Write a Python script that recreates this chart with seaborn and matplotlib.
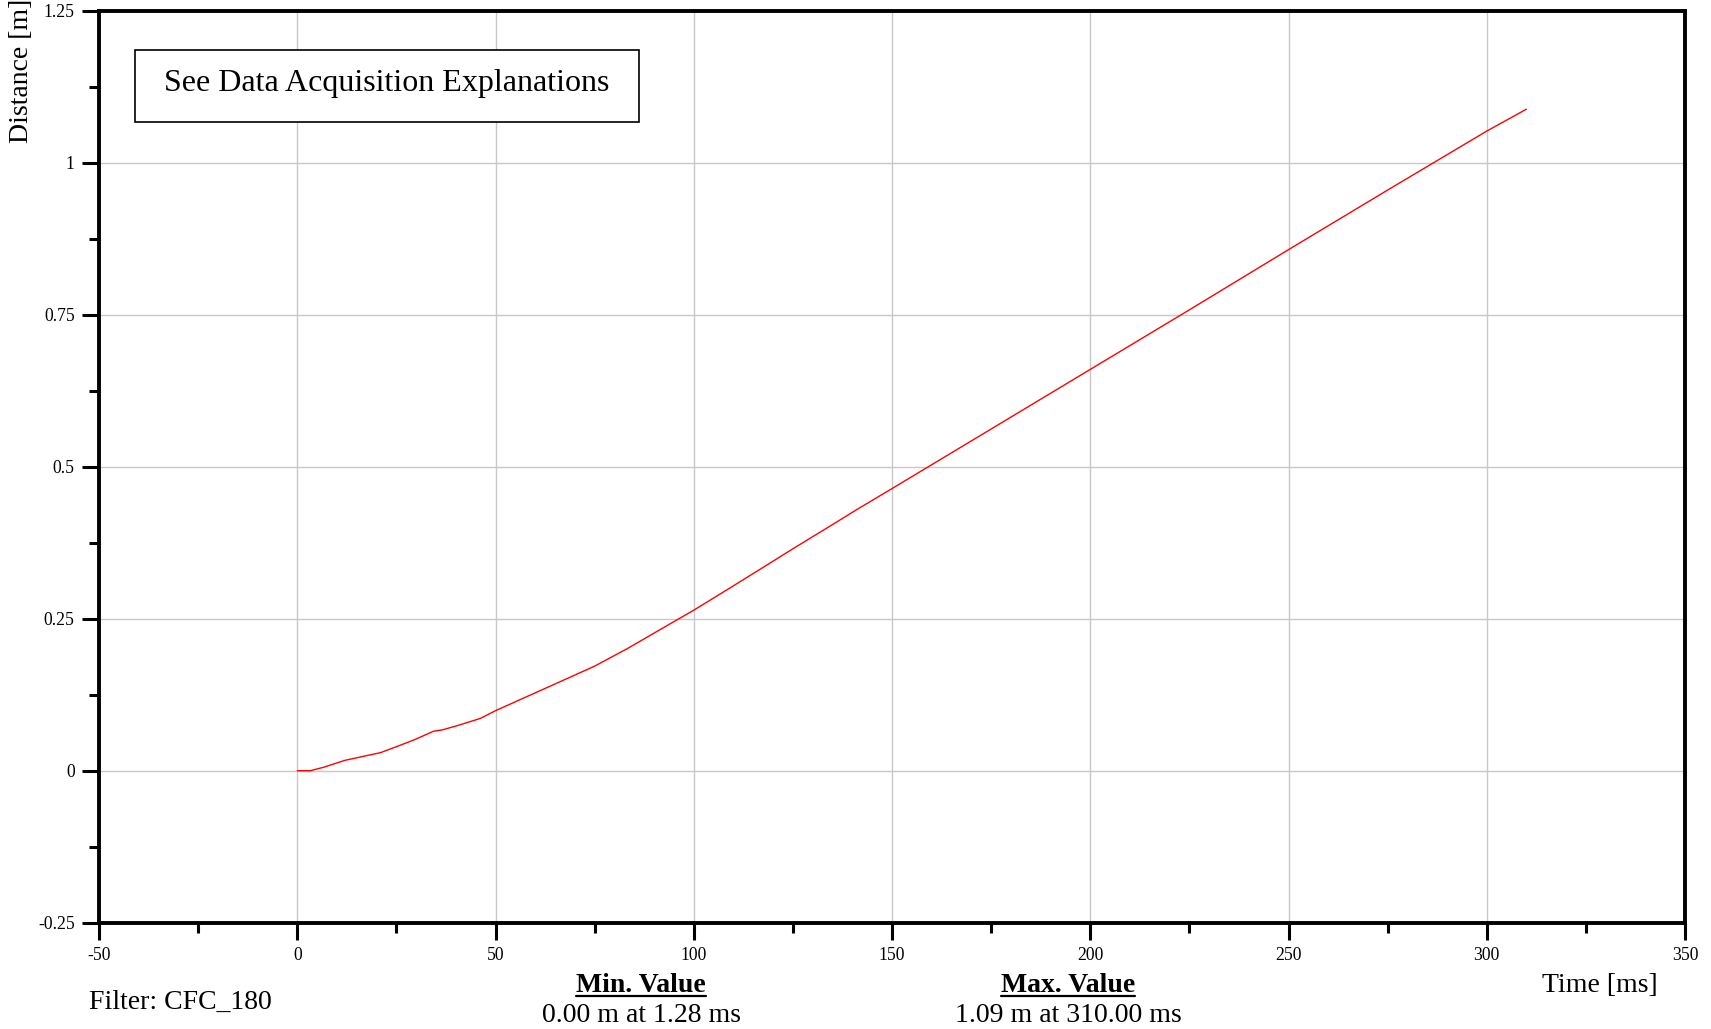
import matplotlib
matplotlib.use("Agg")
import matplotlib.pyplot as plt
from matplotlib.lines import Line2D
from matplotlib.patches import Rectangle
from matplotlib.ticker import FixedLocator, FixedFormatter, MultipleLocator
import seaborn as sns
import pandas as pd

# ---- data ----
time_ms = [0, 3.3, 6.6, 12, 21, 25, 29.4, 34.4, 36.5, 40.3, 46.2, 50, 58.8, 66.5,
           75, 83.3, 91.5, 100, 108.5, 116.9, 125, 133.8, 141.5, 150, 175, 200,
           225, 250, 275, 300, 310]
distance_m = [0, 0, 0.0056, 0.017, 0.0297, 0.0395, 0.0505, 0.065, 0.067, 0.074,
              0.086, 0.0987, 0.1245, 0.147, 0.172, 0.201, 0.232, 0.264, 0.298,
              0.332, 0.365, 0.400, 0.431, 0.464, 0.562, 0.660, 0.758, 0.857,
              0.955, 1.052, 1.088]
x_ticks = [-50, 0, 50, 100, 150, 200, 250, 300, 350]
x_tick_labels = ["-50", "0", "50", "100", "150", "200", "250", "300", "350"]
y_ticks = [-0.25, 0, 0.25, 0.5, 0.75, 1, 1.25]
y_tick_labels = ["-0.25", "0", "0.25", "0.5", "0.75", "1", "1.25"]
note_text = "See Data Acquisition Explanations"
filter_text = "Filter: CFC_180"
min_title, min_text = "Min. Value", "0.00 m at 1.28 ms"
max_title, max_text = "Max. Value", "1.09 m at 310.00 ms"
x_label, y_label = "Time [ms]", "Distance [m]"

sns.set_style("white")
plt.rcParams["font.family"] = ["Liberation Serif", "DejaVu Serif"]
plt.rcParams["axes.unicode_minus"] = False
plt.rcParams["text.color"] = "black"
plt.rcParams["xtick.color"] = "black"
plt.rcParams["ytick.color"] = "black"
plt.rcParams["xtick.labelcolor"] = "black"
plt.rcParams["ytick.labelcolor"] = "black"

W, H = 1711, 1029
fig = plt.figure(figsize=(W / 100, H / 100), dpi=100)
fx = lambda px: px / W
fy = lambda py: 1 - py / H

L, R, T, B = 99, 1685, 10.7, 922.7
ax = fig.add_axes([fx(L), fy(B), fx(R) - fx(L), fy(T) - fy(B)])

df = pd.DataFrame({"t": time_ms, "d": distance_m})
sns.lineplot(data=df, x="t", y="d", ax=ax, color="#ff0000", linewidth=1.0)

ax.set_xlim(-50, 350)
ax.set_ylim(-0.25, 1.25)
ax.xaxis.set_major_locator(FixedLocator(x_ticks))
ax.xaxis.set_major_formatter(FixedFormatter(x_tick_labels))
ax.yaxis.set_major_locator(FixedLocator(y_ticks))
ax.yaxis.set_major_formatter(FixedFormatter(y_tick_labels))
ax.xaxis.set_minor_locator(MultipleLocator(25))
ax.yaxis.set_minor_locator(MultipleLocator(0.125))
ax.set_xlabel("")
ax.set_ylabel("")

ax.grid(True, which="major", color="#c8c8c8", linewidth=1.0)
ax.set_axisbelow(True)
for s in ax.spines.values():
    s.set_linewidth(2.8)
    s.set_color("black")
    s.set_visible(True)
ax.tick_params(which="major", direction="out", length=12.5, width=2.2,
               labelsize=12.7, pad=5, color="black", labelcolor="black",
               bottom=True, left=True)
ax.tick_params(which="minor", direction="out", length=7.5, width=2.2,
               color="black", bottom=True, left=True)

# annotation box
fig.add_artist(Rectangle((fx(135), fy(122)), fx(639) - fx(135), fy(50) - fy(122),
                         transform=fig.transFigure, fill=True, facecolor="white",
                         edgecolor="black", linewidth=1.2, zorder=5))
fig.text(fx(387), fy(84), note_text, ha="center", va="center", fontsize=23,
         color="black", zorder=6)

fig.text(fx(22), fy(71), y_label, rotation=90, ha="center", va="center",
         fontsize=20, color="black")
fig.text(fx(1600), fy(985), x_label, ha="center", va="center", fontsize=20,
         color="black")
fig.text(fx(89), fy(1002), filter_text, ha="left", va="center", fontsize=20,
         color="black")

titles = []
for cx, ttl, txt in [(641, min_title, min_text), (1068, max_title, max_text)]:
    t = fig.text(fx(cx), fy(985), ttl, ha="center", va="center", fontsize=20,
                 fontweight="bold", color="black")
    titles.append(t)
    fig.text(fx(cx), fy(1015), txt, ha="center", va="center", fontsize=20,
             color="black")

fig.canvas.draw()
renderer = fig.canvas.get_renderer()
for t in titles:
    bb = t.get_window_extent(renderer)
    yline = bb.y0 + 2
    fig.add_artist(Line2D([bb.x0 / W, bb.x1 / W], [yline / H, yline / H],
                          transform=fig.transFigure, color="black", linewidth=1.6))

fig.savefig("out.png", dpi=100)
